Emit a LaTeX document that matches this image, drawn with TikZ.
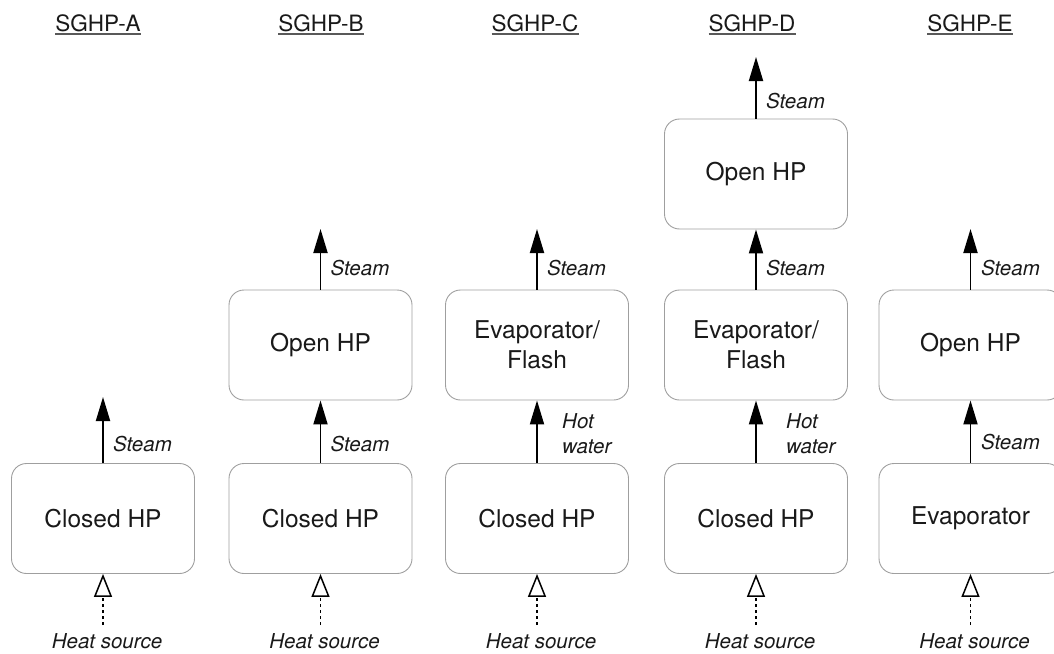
\documentclass[tikz,border=0pt]{standalone}
\usepackage{fontspec}
\setmainfont{TeX Gyre Heros}
\usetikzlibrary{arrows.meta}

\tikzset{
  unit/.style={draw=gray!75, line width=0.9pt, rounded corners=15pt,
    minimum width=183pt, minimum height=110pt, inner sep=0pt, align=center,
    font=\fontsize{24.5}{30}\selectfont, text=black!90},
  flow/.style={line width=1.9pt, -{Triangle[length=24pt,width=14pt]}},
  source/.style={line width=1.5pt, dash pattern=on 3pt off 3pt,
    -{Triangle[open,length=23pt,width=18pt]}},
  lbl/.style={inner sep=0pt, font=\fontsize{20.5}{25}\selectfont\itshape, text=black!90},
  title/.style={inner sep=0pt, font=\fontsize{22.5}{27}\selectfont, text=black!90},
  uline/.style={line width=1.6pt, draw=black!65}
}

\newcommand{\heading}[3]{%
  \node[title, anchor=base] (#1) at (#2,31) {#3};
  \draw[uline] ([yshift=-3pt]#1.base west) -- ([yshift=-3pt]#1.base east);
}

\begin{document}
\begin{tikzpicture}[x=1pt, y=-1pt]
\useasboundingbox (0,0) rectangle (1054,653);
\clip (0,0) rectangle (1054,653);

% column headings
\heading{hA}{98}{SGHP-A}
\heading{hB}{321}{SGHP-B}
\heading{hC}{535}{SGHP-C}
\heading{hD}{752}{SGHP-D}
\heading{hE}{970}{SGHP-E}

% process units
\node[unit] (cA) at (103,518.5) {Closed HP};

\node[unit] (cB) at (320.5,518.5) {Closed HP};
\node[unit] (oB) at (320.5,345) {Open HP};

\node[unit] (cC) at (537,518.5) {Closed HP};
\node[unit] (eC) at (537,345) {Evaporator/\\Flash};

\node[unit] (cD) at (756,518.5) {Closed HP};
\node[unit] (eD) at (756,345) {Evaporator/\\Flash};
\node[unit] (oD) at (756,174) {Open HP};

\node[unit] (vE) at (970.5,518.5) {Evaporator};
\node[unit] (oE) at (970.5,345) {Open HP};

% steam outlets
\coordinate (tA) at (103,397);
\coordinate (tB) at (320.5,229);
\coordinate (tC) at (537,229);
\coordinate (tD) at (756,57);
\coordinate (tE) at (970.5,229);

% heat source inlets
\foreach \c/\x in {A/103, B/320.5, C/537, D/756, E/970.5}{
  \coordinate (s\c) at (\x,625);
}

% flows
\draw[flow] (cA.north) -- (tA);
\draw[flow] (cB.north) -- (oB.south);
\draw[flow] (oB.north) -- (tB);
\draw[flow] (cC.north) -- (eC.south);
\draw[flow] (eC.north) -- (tC);
\draw[flow] (cD.north) -- (eD.south);
\draw[flow] (eD.north) -- (oD.south);
\draw[flow] (oD.north) -- (tD);
\draw[flow] (vE.north) -- (oE.south);
\draw[flow] (oE.north) -- (tE);

\draw[source] (sA) -- (cA.south);
\draw[source] (sB) -- (cB.south);
\draw[source] (sC) -- (cC.south);
\draw[source] (sD) -- (cD.south);
\draw[source] (sE) -- (vE.south);

% flow labels
\node[lbl, anchor=base west] (lA) at (113,451) {Steam};
\node[lbl, anchor=base west] (lB1) at (330.5,451) {Steam};
\node[lbl, anchor=base west] (lB2) at (330.5,275) {Steam};
\node[lbl, anchor=base west] (lC1) at (562,428) {Hot};
\node[lbl, anchor=base west] (lC2) at (562,453) {water};
\node[lbl, anchor=base west] (lC3) at (547,275) {Steam};
\node[lbl, anchor=base west] (lD1) at (786,428) {Hot};
\node[lbl, anchor=base west] (lD2) at (786,453) {water};
\node[lbl, anchor=base west] (lD3) at (766,275) {Steam};
\node[lbl, anchor=base west] (lD4) at (766,108) {Steam};
\node[lbl, anchor=base west] (lE1) at (981,449) {Steam};
\node[lbl, anchor=base west] (lE2) at (981,275) {Steam};

\foreach \c/\x in {A/107, B/324.5, C/541, D/760, E/974.5}{
  \node[lbl, anchor=base] (q\c) at (\x,648) {Heat source};
}
\end{tikzpicture}
\end{document}
